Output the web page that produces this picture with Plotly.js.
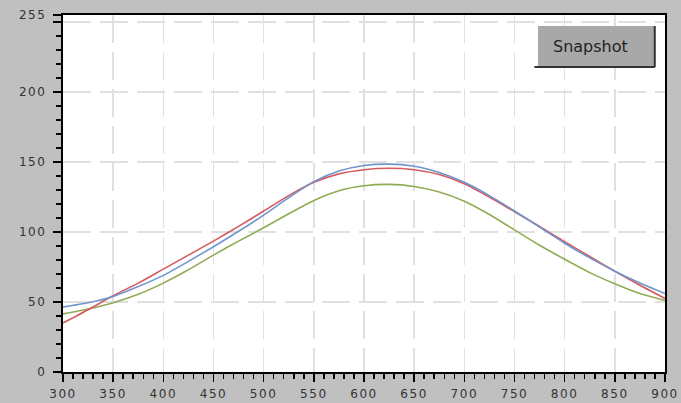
<!DOCTYPE html>
<html>
<head>
<meta charset="utf-8">
<script src="https://cdn.plot.ly/plotly-3.0.1.min.js"></script>
<style>
html,body{margin:0;padding:0;background:#c0c0c0;}
#chart{width:681px;height:403px;}
.xtick text,.ytick text{letter-spacing:1.6px;}
</style>
</head>
<body>
<div id="chart"></div>
<script>
const xs = [300,325,350,375,400,425,450,475,500,525,550,575,600,625,650,675,700,725,750,775,800,825,850,875,900];
const blueVals  = [46.5,49.5,54,61,69,79,89.5,100.5,112,124.5,136,143.5,147.5,148.5,147,142.5,135.5,126,115,103.5,92,81.5,72,63.5,56];
const redVals   = [35,44.5,54.5,63.5,73.5,83.5,93.5,104,115,126,135.5,141.5,144.5,145.5,144.5,141,134.5,125,114.5,104,93,82.5,72,62,52.5];
const greenVals = [41.5,45,49.5,55.5,63.5,73,83.5,93.5,103,113,122.5,129.5,133,134,132.5,128.5,122,112.5,101.5,90.5,80.5,71,63,56,51];
const xTicks = [300,350,400,450,500,550,600,650,700,750,800,850,900];
const yTickVals = [0,50,100,150,200,250,255];
const yTickText = ['0','50','100','150','200','','255'];
const buttonLabel = 'Snapshot';

function series(y, color){
  return {x: xs, y: y, type:'scatter', mode:'lines',
    line:{color:color, width:1.6, shape:'spline', smoothing:0.6},
    hoverinfo:'skip', showlegend:false};
}
const data = [
  series(greenVals,'#8fac55'),
  series(redVals,'#d45a5f'),
  series(blueVals,'#6f95cf')
];
const tickFont = {family:'DejaVu Sans', size:12, color:'#333333'};
const gridStyle = {showgrid:true, gridcolor:'#e0e0e0', gridwidth:1.5, griddash:'28px,9px'};
const layout = {
  width:681, height:403,
  margin:{l:63, r:16, t:15, b:31, pad:0},
  paper_bgcolor:'#c0c0c0',
  plot_bgcolor:'#ffffff',
  xaxis:Object.assign({range:[300,900], tickmode:'array', tickvals:xTicks, ticks:'outside', ticklen:8, tickwidth:1.5, tickcolor:'#000',
    showline:true, mirror:true, linecolor:'#000', linewidth:2, zeroline:false,
    tickfont:tickFont, ticklabelstandoff:2,
    minor:{dtick:10, tick0:300, ticks:'outside', ticklen:5, tickcolor:'#000', tickwidth:1.5, showgrid:false}}, gridStyle),
  yaxis:Object.assign({range:[0,255], tickmode:'array', tickvals:yTickVals, ticktext:yTickText, ticks:'outside', ticklen:8, tickwidth:1.5, tickcolor:'#000',
    showline:true, mirror:true, linecolor:'#000', linewidth:2, zeroline:false,
    tickfont:tickFont, ticklabelstandoff:4,
    minor:{dtick:10, tick0:0, ticks:'outside', ticklen:5, tickcolor:'#000', tickwidth:1.5, showgrid:false}}, gridStyle),
  shapes:[
    {type:'rect', xref:'paper', yref:'paper', x0:0.789, x1:0.983, y0:0.854, y1:0.969, fillcolor:'#a8a8a8', line:{width:0}},
    {type:'line', xref:'paper', yref:'paper', x0:0.783, x1:0.983, y0:0.854, y1:0.854, line:{color:'#333', width:2}},
    {type:'line', xref:'paper', yref:'paper', x0:0.983, x1:0.983, y0:0.854, y1:0.969, line:{color:'#333', width:2}}
  ],
  annotations:[
    {xref:'paper', yref:'paper', x:0.876, y:0.9115, text:buttonLabel, showarrow:false,
     font:{family:'DejaVu Sans', size:16, color:'#222'}, xanchor:'center', yanchor:'middle'}
  ]
};
Plotly.newPlot('chart', data, layout, {displayModeBar:false, staticPlot:true});
</script>
</body>
</html>
